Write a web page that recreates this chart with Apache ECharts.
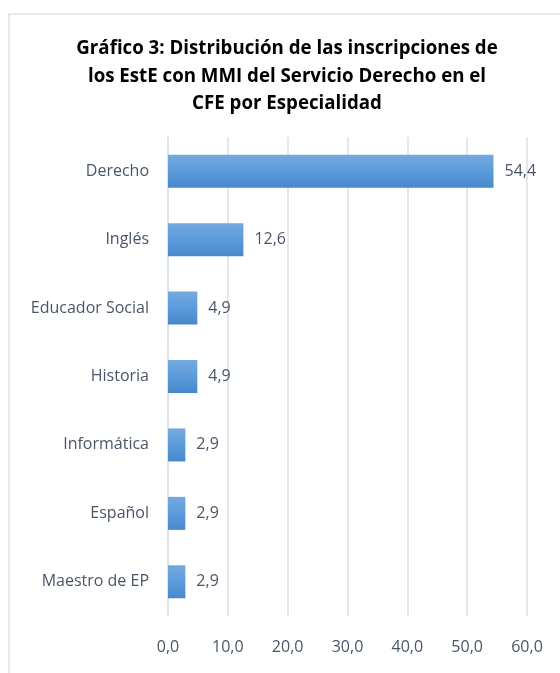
<!DOCTYPE html>
<html>
<head>
<meta charset="utf-8">
<script src="https://cdn.jsdelivr.net/npm/echarts@6/dist/echarts.min.js"></script>
<style>
  html, body { margin: 0; padding: 0; background: #fff; }
  #chart { width: 560px; height: 673px; }
</style>
</head>
<body>
<div id="chart"></div>
<script>
// datos
var especialidades = ['Derecho', 'Inglés', 'Educador Social', 'Historia', 'Informática', 'Español', 'Maestro de EP'];
var porcentajes = [54.4, 12.6, 4.9, 4.9, 2.9, 2.9, 2.9];
var titulo = 'Gráfico 3: Distribución de las inscripciones de\nlos EstE con MMI del Servicio Derecho en el\nCFE por Especialidad';

var fuente = '"Open Sans", sans-serif';
var coma = function (v) { return v.toFixed(1).replace('.', ','); };

var chart = echarts.init(document.getElementById('chart'));
chart.setOption({
    animation: false,
    title: {
        text: titulo,
        left: 282,
        textAlign: 'center',
        top: 30,
        textStyle: {
            color: '#000',
            fontSize: 18.7,
            fontWeight: 'bold',
            fontFamily: fuente,
            lineHeight: 27.5
        }
    },
    graphic: [{
        type: 'rect',
        shape: { x: 9, y: 14, width: 700, height: 800 },
        style: { fill: 'none', stroke: '#dfe3e8', lineWidth: 1.5 },
        silent: true
    }],
    grid: {
        left: 168,
        right: 33,
        top: 137,
        bottom: 57
    },
    xAxis: {
        type: 'value',
        min: 0,
        max: 60,
        interval: 10,
        axisLine: { show: false },
        axisTick: { show: false },
        splitLine: { lineStyle: { color: '#dbe0e8', width: 1.5 } },
        axisLabel: {
            formatter: coma,
            color: '#4a5668',
            fontSize: 16,
            fontFamily: fuente,
            margin: 23
        }
    },
    yAxis: {
        type: 'category',
        inverse: true,
        data: especialidades,
        axisLine: { lineStyle: { color: '#dbe0e8', width: 1.5 } },
        axisTick: { show: false },
        axisLabel: {
            color: '#4a5668',
            fontSize: 16,
            fontFamily: fuente,
            margin: 19
        }
    },
    series: [{
        type: 'bar',
        data: porcentajes,
        barWidth: 33,
        itemStyle: {
            color: new echarts.graphic.LinearGradient(0, 0, 0, 1, [
                { offset: 0, color: '#74a9de' },
                { offset: 0.5, color: '#5b9bdc' },
                { offset: 1, color: '#4788cb' }
            ])
        },
        label: {
            show: true,
            position: 'right',
            distance: 11,
            formatter: function (p) { return coma(p.value); },
            color: '#4a5668',
            fontSize: 16,
            fontFamily: fuente
        }
    }]
});
</script>
</body>
</html>
